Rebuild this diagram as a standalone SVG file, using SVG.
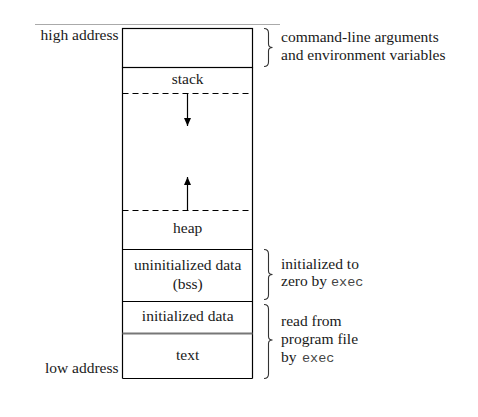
<svg xmlns="http://www.w3.org/2000/svg" width="478" height="417" viewBox="0 0 478 417">
<defs>
<style>
.t{font-family:"Liberation Serif","Times New Roman",serif;font-size:15.5px;fill:#1a1a1a}
.m{font-family:"Liberation Mono","Courier New",monospace;font-size:13.5px;fill:#444}
.c{text-anchor:middle}
.e{text-anchor:end}
.ln{stroke:#000;stroke-width:1.2;fill:none}
.ds{stroke:#000;stroke-width:1.2;stroke-dasharray:6,4;fill:none}
.br{stroke:#333;stroke-width:1.1;fill:none}
</style>
<marker id="ah" viewBox="0 0 8 14" refX="8" refY="7" markerWidth="8" markerHeight="14" markerUnits="userSpaceOnUse" orient="auto">
<path d="M0,3.5 L8,7 L0,10.5 Z" fill="#000"/>
</marker>
</defs>
<rect width="478" height="417" fill="#fff"/>
<line x1="35" y1="24.5" x2="280" y2="24.5" stroke="#aaa" stroke-width="1"/>

<g id="args">
<rect x="122.5" y="28.5" width="130" height="39" class="ln"/>
</g>
<g id="stack">
<line x1="122.5" y1="67.5" x2="252.5" y2="67.5" class="ln"/>
<text x="187.7" y="83.5" class="t c">stack</text>
<line x1="122.5" y1="93.5" x2="252.5" y2="93.5" class="ds"/>
</g>
<g id="free">
<line x1="122.5" y1="67.5" x2="122.5" y2="378.5" class="ln"/>
<line x1="252.5" y1="67.5" x2="252.5" y2="378.5" class="ln"/>
</g>
<g id="heap">
<line x1="122.5" y1="210.5" x2="252.5" y2="210.5" class="ds"/>
<text x="187.7" y="233" class="t c">heap</text>
</g>
<g id="bss">
<line x1="122.5" y1="249.5" x2="252.5" y2="249.5" class="ln"/>
<text x="187.7" y="270" class="t c">uninitialized data</text>
<text x="187.7" y="288.5" class="t c">(bss)</text>
</g>
<g id="data">
<line x1="122.5" y1="301.5" x2="252.5" y2="301.5" class="ln"/>
<text x="187.7" y="321" class="t c">initialized data</text>
</g>
<g id="text">
<line x1="122.5" y1="333.5" x2="252.5" y2="333.5" stroke="#777" stroke-width="2"/>
<text x="187.7" y="359.5" class="t c">text</text>
<line x1="122.5" y1="378.5" x2="252.5" y2="378.5" class="ln"/>
</g>

<g id="connectors">
<line x1="187.5" y1="93.5" x2="187.5" y2="126" class="ln" marker-end="url(#ah)"/>
<line x1="187.5" y1="210.5" x2="187.5" y2="177" class="ln" marker-end="url(#ah)"/>
</g>

<g id="labels">
<text x="118.5" y="40" class="t e">high address</text>
<text x="118.5" y="372.5" class="t e">low address</text>
</g>

<g id="brace-args">
<path class="br" d="M264,28.5 Q268.5,28.5 268.5,33 L268.5,44 Q268.5,47.5 272.5,47.5 Q268.5,47.5 268.5,51 L268.5,62 Q268.5,66.5 264,66.5"/>
<text x="281" y="42" class="t">command-line arguments</text>
<text x="281" y="60" class="t">and environment variables</text>
</g>
<g id="brace-bss">
<path class="br" d="M264,249.5 Q268.5,249.5 268.5,254 L268.5,271 Q268.5,274.5 272.5,274.5 Q268.5,274.5 268.5,278 L268.5,295 Q268.5,299.5 264,299.5"/>
<text x="281" y="268.5" class="t">initialized to</text>
<text x="281" y="286" class="t">zero by</text>
<text x="331" y="286" class="m">exec</text>
</g>
<g id="brace-data">
<path class="br" d="M264,304.5 Q268.5,304.5 268.5,309 L268.5,336.5 Q268.5,340 272.5,340 Q268.5,340 268.5,343.5 L268.5,374 Q268.5,378.5 264,378.5"/>
<text x="281" y="326" class="t">read from</text>
<text x="281" y="344" class="t">program file</text>
<text x="281" y="362" class="t">by</text>
<text x="302" y="362" class="m">exec</text>
</g>
</svg>
